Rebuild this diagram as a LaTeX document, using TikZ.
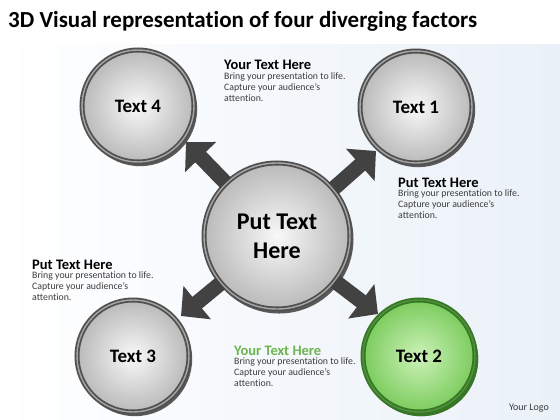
\documentclass[tikz,border=0pt]{standalone}
\usepackage{fontspec}
\setmainfont{Carlito}[Ligatures=NoCommon]
\usetikzlibrary{arrows.meta,shadows,positioning}

\definecolor{rimgray}{RGB}{80,80,80}
\definecolor{discin}{RGB}{248,248,248}
\definecolor{discout}{RGB}{186,186,186}
\definecolor{rimgreen}{RGB}{52,120,36}
\definecolor{greenin}{RGB}{204,242,184}
\definecolor{greenout}{RGB}{124,204,94}
\definecolor{headgreen}{RGB}{110,180,80}
\definecolor{bodygray}{RGB}{60,60,60}
\definecolor{paleblue}{RGB}{234,241,248}
\definecolor{arrowgray}{RGB}{66,66,66}

\tikzset{
	disc/.style={shape=circle, minimum size=112pt, inner sep=0pt,
		draw=rimgray, line width=1.8pt, double=black!35, double distance=1.4pt,
		inner color=discin, outer color=discout,
		drop shadow={shadow xshift=2pt, shadow yshift=-3pt, shadow scale=1.02, fill=black!65, opacity=1},
		font=\fontsize{19}{22}\selectfont\bfseries},
	greendisc/.style={disc, draw=rimgreen, double=greenout!70!black,
		inner color=greenin, outer color=greenout,
		drop shadow={shadow xshift=2pt, shadow yshift=-3pt, shadow scale=1.02, fill=rimgreen, opacity=1}},
	hubdisc/.style={disc, minimum size=146pt, align=center,
		font=\fontsize{24}{29}\selectfont\bfseries},
	fatarrow/.style={draw=arrowgray, line width=15pt,
		-{Triangle[length=21pt, width=42pt]}},
	head/.style={anchor=base west, inner sep=0pt, font=\fontsize{14.5}{17}\selectfont\bfseries},
	body/.style={anchor=north west, inner sep=0pt, align=left, text=bodygray,
		font=\fontsize{9.8}{11}\selectfont}
}

\begin{document}
\begin{tikzpicture}[x=1pt, y=-1pt]
	\useasboundingbox (0,0) rectangle (560,420);
	\fill[white] (0,0) rectangle (560,420);
	\shade[left color=white, right color=paleblue] (0,45) rectangle (560,420);

	\node[anchor=base west, inner sep=0pt, font=\fontsize{23}{27}\selectfont\bfseries] (title) at (8,28) {3D Visual representation of four diverging factors};

	\node[hubdisc] (c) at (277,236) {Put Text\\Here};

	\foreach \nm/\x/\y/\sty/\lbl in {t1/416/107/disc/Text 1, t2/419/356/greendisc/Text 2, t3/133/356/disc/Text 3, t4/138/106/disc/Text 4} {
		\node[\sty] (\nm) at (\x,\y) {\lbl};
		}

	\coordinate (a1) at (376,151);
	\coordinate (a2) at (378,314);
	\coordinate (a3) at (181,316);
	\coordinate (a4) at (186,142);
	\foreach \ang/\tip in {40/a1, -38/a2, -140/a3, 134/a4} {
		\draw[fatarrow] (c.\ang) -- (\tip);
		}

	\node[head] (h1) at (224,70) {Your Text Here};
	\node[body, below=2.5pt of h1.south west, anchor=north west] (b1) {Bring your presentation to life.\\Capture your audience’s\\attention.};

	\node[head] (h2) at (398,187) {Put Text Here};
	\node[body, below=2.5pt of h2.south west, anchor=north west] (b2) {Bring your presentation to life.\\Capture your audience’s\\attention.};

	\node[head] (h3) at (32,269) {Put Text Here};
	\node[body, below=2.5pt of h3.south west, anchor=north west] (b3) {Bring your presentation to life.\\Capture your audience’s\\attention.};

	\node[head, text=headgreen] (h4) at (234,355) {Your Text Here};
	\node[body, below=2.5pt of h4.south west, anchor=north west] (b4) {Bring your presentation to life.\\Capture your audience’s\\attention.};

	\node[anchor=base east, inner sep=0pt, text=bodygray, font=\fontsize{10}{12}\selectfont] (logo) at (549,410) {Your Logo};
\end{tikzpicture}
\end{document}
